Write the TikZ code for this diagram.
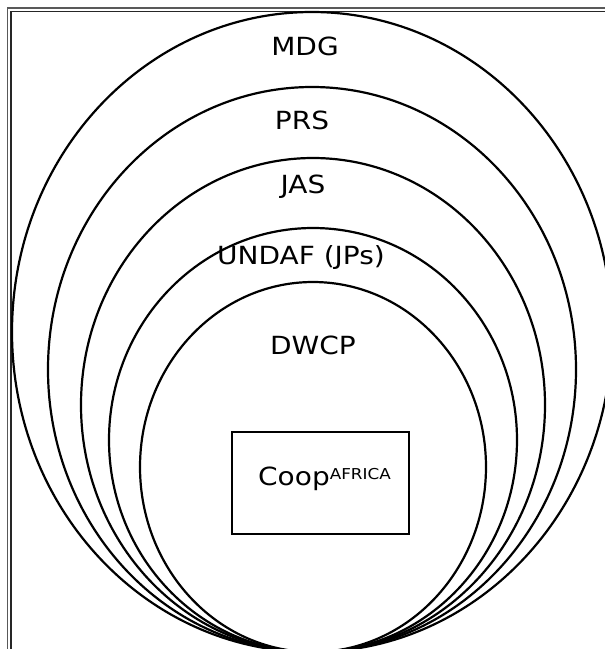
\documentclass[tikz,border=0pt]{standalone}
\usepackage{fontspec}
\usepackage{graphicx}
\setmainfont{DejaVu Sans}
\begin{document}
\begin{tikzpicture}[x=1pt,y=-1pt,
  ring/.style={draw=black,line width=2.2pt},
  lbl/.style={inner sep=0pt,font=\fontsize{25}{29}\selectfont},
  frameouter/.style={draw=black!65,line width=1.5pt},
  frameinner/.style={draw=black!85,line width=1.2pt}]
\useasboundingbox (0,0) rectangle (605,649);
\clip (0,0) rectangle (605,649);
\fill[white] (0,0) rectangle (605,649);
% frame (double line, only top and left visible)
\draw[frameouter] (7.7,700) -- (7.7,8.2) -- (700,8.2);
\draw[frameinner] (11,700) -- (11,11.6) -- (700,11.6);
% nested ellipses, tangent at the bottom
\draw[ring] (312,332) ellipse [x radius=300pt, y radius=320pt];
\draw[ring] (312,369.5) ellipse [x radius=264pt, y radius=282.5pt];
\draw[ring] (313,405) ellipse [x radius=232pt, y radius=247pt];
\draw[ring] (313,440) ellipse [x radius=204pt, y radius=212pt];
\draw[ring] (313,467) ellipse [x radius=173pt, y radius=185pt];
% labels
\node[lbl] (mdg) at (305,46) {\scalebox{1.12}[1]{MDG}};
\node[lbl] (prs) at (302,120) {\scalebox{1.12}[1]{PRS}};
\node[lbl] (jas) at (303,187) {\scalebox{1.12}[1]{JAS}};
\node[lbl] (undaf) at (301,258) {\scalebox{1.12}[1]{UNDAF (JPs)}};
\node[lbl] (dwcp) at (313,345) {\scalebox{1.12}[1]{DWCP}};
% CoopAFRICA box
\node[draw=black,line width=1.8pt,minimum width=177pt,minimum height=102pt,inner sep=0pt] (box) at (320.5,483) {};
\node[lbl,anchor=base west] (coop) at (258,485) {\scalebox{1.12}[1]{Coop\raisebox{6pt}{\fontsize{15}{15}\selectfont AFRICA}}};
\end{tikzpicture}
\end{document}
